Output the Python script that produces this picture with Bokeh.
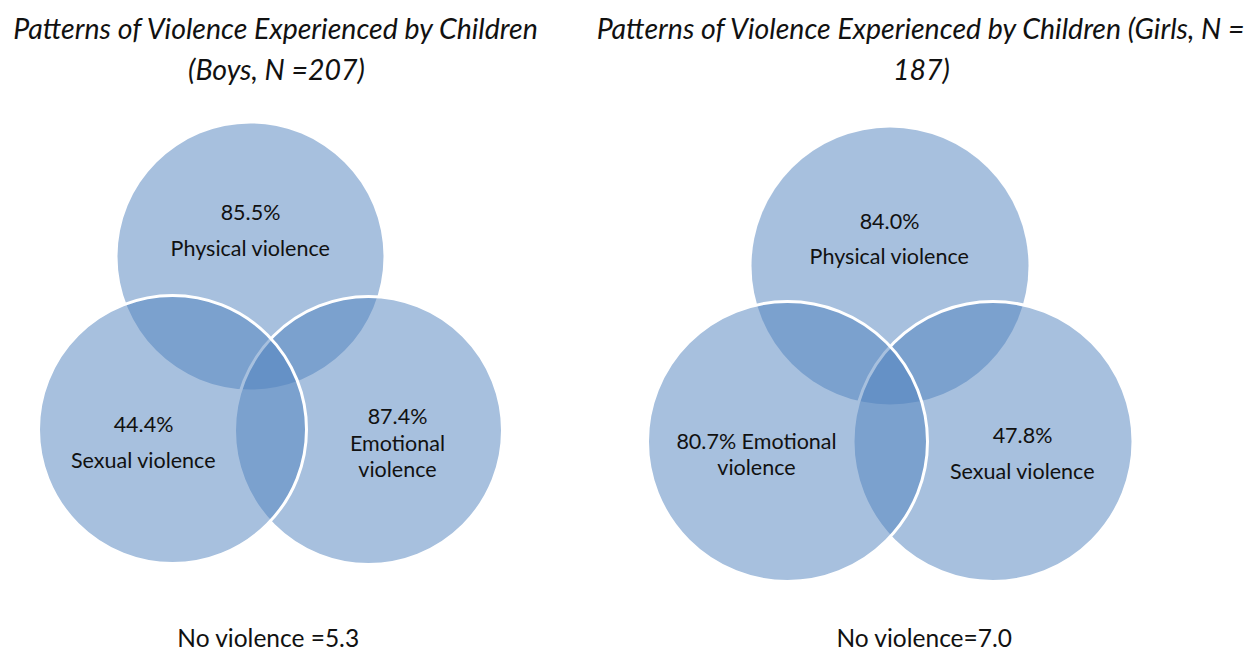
from bokeh.plotting import figure
from bokeh.models import Range1d, ColumnDataSource
from bokeh.core.properties import value
from bokeh.embed import file_html
from bokeh.resources import INLINE

# ---------------- data ----------------
boys_categories = ["Physical violence", "Sexual violence", "Emotional violence"]
boys_values = [85.5, 44.4, 87.4]
girls_categories = ["Physical violence", "Emotional violence", "Sexual violence"]
girls_values = [84.0, 80.7, 47.8]
no_violence_values = [5.3, 7.0]
no_violence_formats = ["No violence ={:.1f}", "No violence={:.1f}"]
title_lines_boys = ["Patterns of Violence Experienced by Children", "(Boys, N =207)"]
title_lines_girls = ["Patterns of Violence Experienced by Children (Girls, N =", "187)"]

# ---------------- layout ----------------
W, H = 1252, 654
BLUE = "#4F81BD"
FONT = "Lato"

p = figure(width=W, height=H, x_range=Range1d(0, W), y_range=Range1d(H, 0),
           output_backend="svg", toolbar_location=None, min_border=0,
           x_axis_location=None, y_axis_location=None)
p.grid.visible = False
p.outline_line_color = None
p.background_fill_color = "white"
p.border_fill_color = "white"


def split_label(cat, val, mode):
    pct = f"{val:.1f}%"
    words = cat.split(" ")
    if mode == "above":
        return [pct, cat]
    if mode == "above_wrap":
        return [pct] + words
    if mode == "inline_wrap":
        return [pct + " " + words[0], " ".join(words[1:])]
    return [pct, cat]


panels = [
    dict(cats=boys_categories, vals=boys_values,
         centers=[(250, 256), (172, 429), (368, 430)], radii=[133, 134, 134],
         modes=["above", "above", "above_wrap"],
         label_pos=[(250, [211, 247]), (143, [423, 459]), (397, [415, 442, 468])],
         title=title_lines_boys, title_pos=(276, [27, 68]),
         nv=(268, 637)),
    dict(cats=girls_categories, vals=girls_values,
         centers=[(889.5, 265.5), (787, 441), (992.5, 441)], radii=[138.5, 140, 140],
         modes=["above", "inline_wrap", "above"],
         label_pos=[(889, [220, 255]), (756, [440, 466]), (1022, [434, 470])],
         title=title_lines_girls, title_pos=(921, [27, 68]),
         nv=(924, 637)),
]

for k, pn in enumerate(panels):
    # draw order: top circle, bottom-right circle, bottom-left circle
    for idx in [0, 2, 1]:
        cx, cy = pn["centers"][idx]
        src = ColumnDataSource(dict(x=[cx], y=[cy], r=[pn["radii"][idx]],
                                    cat=[pn["cats"][idx]], v=[pn["vals"][idx]]))
        if idx == 0:
            p.circle(x="x", y="y", radius="r", source=src, fill_color=BLUE,
                     fill_alpha=0.5, line_color=None)
        else:
            p.circle(x="x", y="y", radius="r", source=src, fill_color=BLUE,
                     fill_alpha=0.5, line_color="white", line_width=3)

    xs, ys, ts = [], [], []
    for idx in range(3):
        lines = split_label(pn["cats"][idx], pn["vals"][idx], pn["modes"][idx])
        lx, lys = pn["label_pos"][idx]
        for t, ly in zip(lines, lys):
            xs.append(lx); ys.append(ly); ts.append(t)
    p.text(x=xs, y=ys, text=ts, text_align="center", text_baseline="middle",
           text_font=value(FONT), text_font_size="21.5px", text_color="#111111")

    tx, tys = pn["title_pos"]
    p.text(x=[tx] * len(pn["title"]), y=tys, text=pn["title"], text_align="center",
           text_baseline="middle", text_font=value(FONT), text_font_style="italic",
           text_font_size="28.5px", text_color="#111111")

    nx, ny = pn["nv"]
    p.text(x=[nx], y=[ny], text=[no_violence_formats[k].format(no_violence_values[k])],
           text_align="center", text_baseline="middle", text_font=value(FONT),
           text_font_size="24.5px", text_color="#111111")

open("out.html", "w").write(file_html(p, INLINE))
